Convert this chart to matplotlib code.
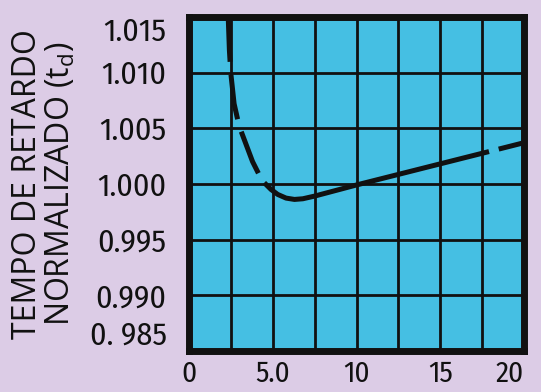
import matplotlib
matplotlib.use("Agg")
import matplotlib.pyplot as plt
from matplotlib.ticker import MultipleLocator, FixedLocator, FixedFormatter

# curva (tempo de retardo normalizado)
x_left = [2.35, 2.42, 2.5, 2.7, 3.0, 3.4, 3.8, 4.2, 4.5]
y_left = [1.0150, 1.0120, 1.0100, 1.0072, 1.0052, 1.0036, 1.0020, 1.0008, 1.0001]

x_mid = [4.5, 4.9, 5.3, 5.8, 6.3, 6.8, 7.5, 10.0, 12.5, 15.0, 17.9]
y_mid = [1.0001, 0.9995, 0.99905, 0.99872, 0.99860, 0.99866, 0.99890, 0.99990, 1.00085, 1.0018, 1.0029]

x_right = [17.9, 20.0]
y_right = [1.0029, 1.0037]

xticks = [0, 5, 10, 15, 20]
xlabels = ['0', '5.0', '10', '15', '20']
yticks = [0.985, 0.990, 0.995, 1.000, 1.005, 1.010, 1.015]
ylabels = ['0. 985', '0.990', '0.995', '1.000', '1.005', '1.010', '1.015']

bg = '#dccce6'
cyan = '#45bfe3'
ink = '#111111'
num_font = ['Fira Sans Condensed', 'DejaVu Sans']
lab_font = ['Open Sans', 'DejaVu Sans']

fig = plt.figure(figsize=(5.41, 3.92), dpi=100, facecolor=bg)
ax = fig.add_axes([0.349, 0.105, 0.620, 0.852])
ax.set_facecolor(cyan)

ax.plot(x_left, y_left, color=ink, lw=3.6, linestyle=(0, (9, 2.6)), solid_capstyle='butt', zorder=3)
ax.plot(x_mid, y_mid, color=ink, lw=3.6, solid_capstyle='butt', zorder=3)
ax.plot(x_right, y_right, color=ink, lw=3.6, linestyle=(7, (7, 2)), zorder=3)

ax.set_xlim(0, 20)
ax.set_ylim(0.985, 1.015)

ax.xaxis.set_major_locator(FixedLocator(xticks))
ax.xaxis.set_major_formatter(FixedFormatter(xlabels))
ax.xaxis.set_minor_locator(MultipleLocator(2.5))
ax.yaxis.set_major_locator(FixedLocator(yticks))
ax.yaxis.set_major_formatter(FixedFormatter(ylabels))

ax.grid(which='both', color=ink, lw=2.0)
ax.set_axisbelow(True)
ax.tick_params(which='both', length=0)
ax.tick_params(axis='y', pad=16, labelsize=23, labelcolor=ink)
ax.tick_params(axis='x', pad=6, labelsize=21, labelcolor=ink)
for lab in ax.get_xticklabels() + ax.get_yticklabels():
    lab.set_family(num_font)

yl = ax.get_yticklabels()
yl[0].set_va('bottom')
yl[-1].set_va('top')
xl = ax.get_xticklabels()
xl[-1].set_ha('right')

for s in ax.spines.values():
    s.set_linewidth(5)
    s.set_color(ink)
    s.set_zorder(5)

fig.text(0.050, 0.53, 'TEMPO DE RETARDO', rotation=90, ha='center', va='center',
         fontsize=23, color=ink, family=lab_font)
fig.text(0.112, 0.53, r'NORMALIZADO (t$_\mathregular{d}$)', rotation=90, ha='center', va='center',
         fontsize=23, color=ink, family=lab_font)

fig.savefig('out.png', dpi=100, facecolor=bg)
